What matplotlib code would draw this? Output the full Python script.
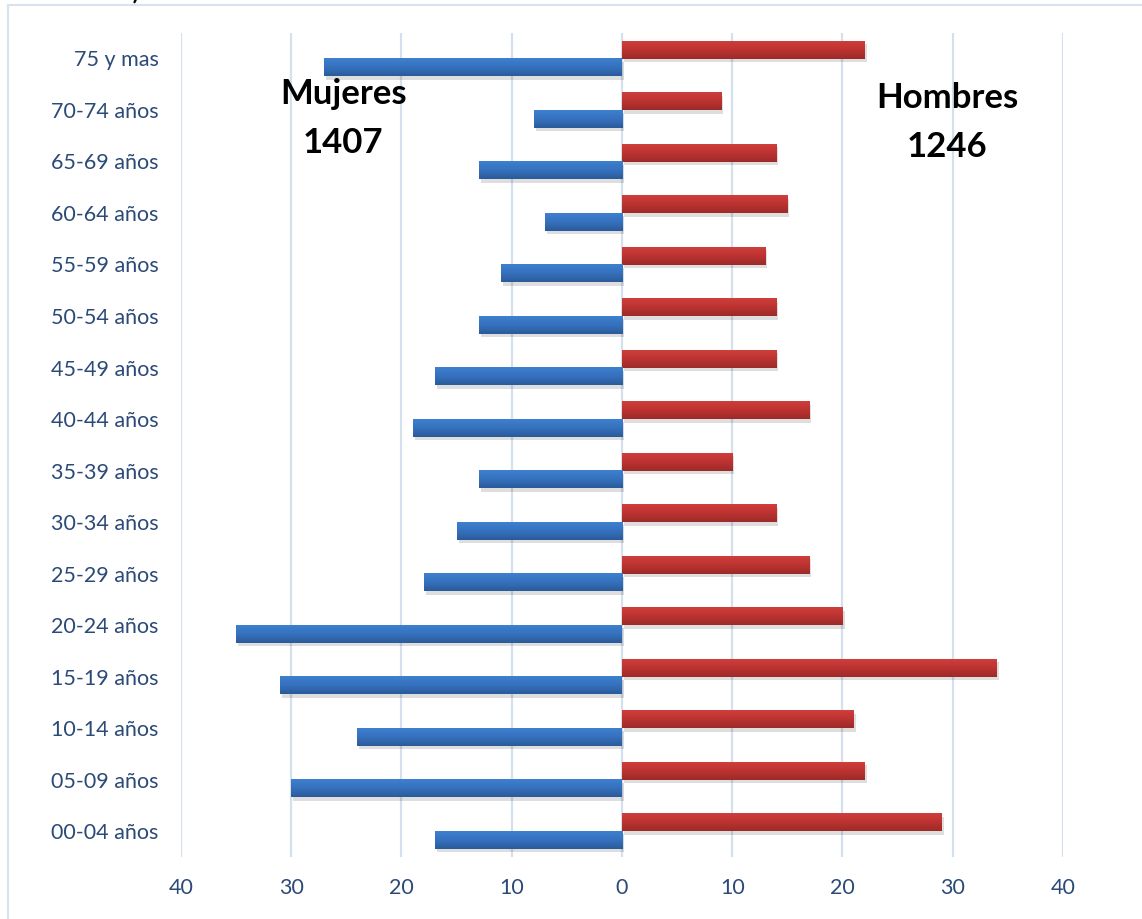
import numpy as np
import matplotlib
matplotlib.use("Agg")
import matplotlib.pyplot as plt
from matplotlib import patheffects
from matplotlib.colors import LinearSegmentedColormap
from matplotlib.patches import Rectangle

plt.rcParams['font.family'] = ['Lato', 'DejaVu Sans']

# age groups, bottom to top
grupos = ['00-04 años', '05-09 años', '10-14 años', '15-19 años', '20-24 años',
          '25-29 años', '30-34 años', '35-39 años', '40-44 años', '45-49 años',
          '50-54 años', '55-59 años', '60-64 años', '65-69 años', '70-74 años',
          '75 y mas']
mujeres = [17, 30, 24, 31, 35, 18, 15, 13, 19, 17, 13, 11, 7, 13, 8, 27]
hombres = [29, 22, 21, 34, 20, 17, 14, 10, 17, 14, 14, 13, 15, 14, 9, 22]
ticks_x = [-40, -30, -20, -10, 0, 10, 20, 30, 40]
total_mujeres = 1407
total_hombres = 1246

fig = plt.figure(figsize=(11.42, 9.19), dpi=100)
ax = fig.add_axes([0.1585, 0.0675, 0.7723, 0.897])

y = np.arange(len(grupos))
h = 0.35
off = 0.17

red_cmap = LinearSegmentedColormap.from_list('r', ['#d0403d', '#bd3331', '#9c2a29'])
blue_cmap = LinearSegmentedColormap.from_list('b', ['#3f81d1', '#3672bf', '#2b5b9a'])
shadow = [patheffects.SimplePatchShadow(offset=(1.5, -2.5), shadow_rgbFace='#000000', alpha=0.13),
          patheffects.Normal()]

bars_h = ax.barh(y + off, hombres, height=h, color='#bd3331', zorder=3)
bars_m = ax.barh(y - off, [-v for v in mujeres], height=h, color='#3672bf', zorder=3)

grad = np.linspace(0, 1, 64).reshape(-1, 1)
for bars, cmap in [(bars_h, red_cmap), (bars_m, blue_cmap)]:
    for b in bars:
        b.set_path_effects(shadow)
        x0, y0 = b.get_x(), b.get_y()
        x1, y1 = x0 + b.get_width(), y0 + b.get_height()
        im = ax.imshow(grad, cmap=cmap, extent=[min(x0, x1), max(x0, x1), y0, y1],
                       aspect='auto', origin='upper', zorder=4, interpolation='bilinear')
        im.set_clip_path(b)

ax.set_xlim(-40, 40)
ax.set_ylim(-0.5, len(grupos) - 0.5)
ax.set_xticks(ticks_x)
ax.set_xticklabels([str(abs(t)) for t in ticks_x])
ax.set_yticks(y)
ax.set_yticklabels(grupos)
ax.tick_params(axis='both', length=0, labelsize=15.5, labelcolor='#2b4a78')
ax.tick_params(axis='x', pad=15)
ax.tick_params(axis='y', pad=16)
ax.grid(axis='x', color='#d5e0ee', linewidth=1.6, zorder=0)
for s in ax.spines.values():
    s.set_visible(False)

ax.text(-25.3, 13.84, 'Mujeres\n%d' % total_mujeres, ha='center', va='center',
        fontsize=25, fontweight='bold', linespacing=1.65, zorder=6)
ax.text(29.5, 13.75, 'Hombres\n%d' % total_hombres, ha='center', va='center',
        fontsize=25, fontweight='bold', linespacing=1.65, zorder=6)

# chart border (cut off at right and bottom)
fig.patches.append(Rectangle((8 / 1142, -0.05), 1.2, 1 - 5 / 919 + 0.05,
                             transform=fig.transFigure, fill=False,
                             edgecolor='#d9e3ef', linewidth=1.5))
# title line above, mostly outside the picture
fig.text(140 / 1142, 1 + 1 / 919, '(grupos de 5 años)', ha='right', va='baseline',
         fontsize=22, color='black')

fig.savefig('out.png', dpi=100)
